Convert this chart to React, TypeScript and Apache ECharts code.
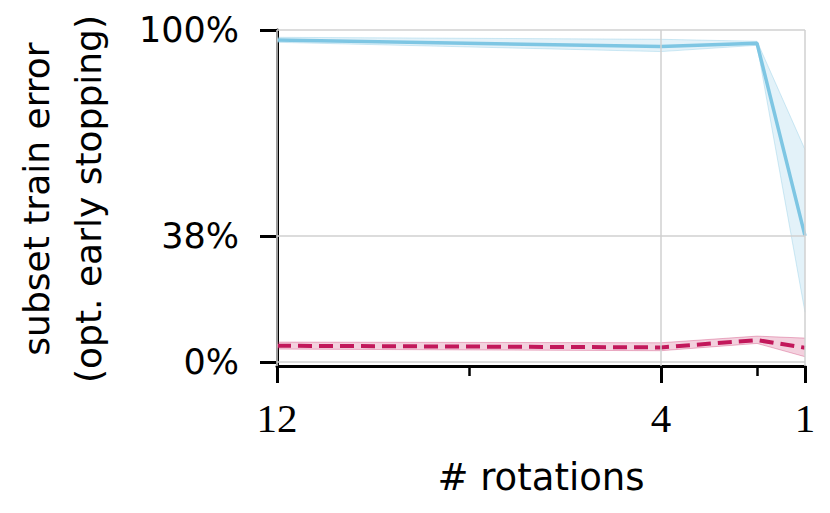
import React, { useEffect, useRef } from "react";
import * as echarts from "echarts";

const rotations = [12, 4, 2, 1];
const blueMean = [97.0, 95.0, 96.0, 38.0];
const blueLow = [96.3, 93.5, 95.4, 15.0];
const blueHigh = [97.8, 97.2, 96.6, 64.0];
const redMean = [4.9, 4.4, 6.6, 4.3];
const redLow = [3.9, 3.4, 5.6, 1.6];
const redHigh = [6.0, 5.8, 7.8, 7.2];
const yTicks = [0, 38, 100];
const xTicksMajor = [1, 4, 12];
const xTicksMinor = [2, 8];

const BLUE = "#7ec6e3";
const RED = "#c2185b";

export default function App() {
  const ref = useRef<HTMLDivElement>(null);
  useEffect(() => {
    if (!ref.current) return;
    const chart = echarts.init(ref.current, null, { renderer: "svg" });
    const pts = (ys: number[]) => rotations.map((x, i) => [x, ys[i]]);
    const band = (low: number[], high: number[], fill: string, edge: string) => ({
      type: "custom",
      coordinateSystem: "cartesian2d",
      data: [[rotations[0], low[0]]],
      z: 2,
      silent: true,
      renderItem: (params: any, api: any) => {
        const lo = rotations.map((x, i) => api.coord([x, low[i]]));
        const hi = rotations.map((x, i) => api.coord([x, high[i]])).reverse();
        return {
          type: "group",
          children: [
            { type: "polygon", shape: { points: lo.concat(hi) }, style: { fill, stroke: "none" } },
            { type: "polyline", shape: { points: lo }, style: { stroke: edge, lineWidth: 1, fill: "none" } },
            { type: "polyline", shape: { points: hi }, style: { stroke: edge, lineWidth: 1, fill: "none" } },
          ],
        };
      },
    });
    const axisBlack = { color: "#000", width: 3 };
    chart.setOption({
      animation: false,
      grid: { left: 277, right: 25, top: 30, bottom: 147, outerBoundsMode: "none", containLabel: false },
      xAxis: [
        {
          type: "value",
          min: 1,
          max: 12,
          inverse: true,
          position: "bottom",
          axisLine: { show: true, onZero: false, lineStyle: axisBlack },
          axisTick: { show: true, length: 17, lineStyle: axisBlack, customValues: xTicksMajor },
          axisLabel: {
            customValues: xTicksMajor,
            fontFamily: "Liberation Serif",
            fontSize: 41,
            color: "#000",
            margin: 31,
          },
          splitLine: { show: false },
        },
        {
          type: "value",
          min: 1,
          max: 12,
          inverse: true,
          position: "bottom",
          axisLine: { show: false, onZero: false },
          axisTick: { show: true, length: 10, lineStyle: { color: "#000", width: 2.5 }, customValues: xTicksMinor },
          axisLabel: { show: false },
          splitLine: { show: false },
        },
      ],
      yAxis: {
        type: "value",
        min: -1.2,
        max: 100,
        axisLine: { show: true, onZero: false, lineStyle: axisBlack },
        axisTick: { show: true, length: 17, lineStyle: axisBlack, customValues: yTicks },
        axisLabel: {
          customValues: yTicks,
          formatter: (v: number) => v + "%",
          fontFamily: "DejaVu Sans",
          fontSize: 35,
          color: "#000",
          margin: 38,
        },
        splitLine: { show: false },
      },
      graphic: [
        {
          type: "text",
          x: 62,
          y: 199,
          rotation: Math.PI / 2,
          style: {
            text: "subset train error\n(opt. early stopping)",
            fontFamily: "DejaVu Sans",
            fontSize: 36,
            lineHeight: 52,
            align: "center",
            verticalAlign: "middle",
            fill: "#000",
          },
        },
        {
          type: "text",
          x: 541,
          y: 477,
          style: {
            text: "# rotations",
            fontFamily: "DejaVu Sans",
            fontSize: 37,
            align: "center",
            verticalAlign: "middle",
            fill: "#000",
          },
        },
      ],
      series: [
        {
          name: "grid",
          type: "line",
          data: [],
          z: 0,
          markLine: {
            silent: true,
            symbol: "none",
            label: { show: false },
            lineStyle: { color: "#d0d0d0", width: 1.5, type: "solid" },
            data: [
              ...yTicks.map((v) => ({ yAxis: v })),
              ...xTicksMajor.map((v) => ({ xAxis: v })),
            ],
          },
        },
        band(blueLow, blueHigh, "rgba(126,198,227,0.22)", "rgba(126,198,227,0.35)"),
        band(redLow, redHigh, "rgba(194,24,91,0.2)", "rgba(194,24,91,0.3)"),
        {
          name: "blue",
          type: "line",
          data: pts(blueMean),
          symbol: "none",
          lineStyle: { color: BLUE, width: 3.5 },
          z: 3,
        },
        {
          name: "red",
          type: "line",
          data: pts(redMean),
          symbol: "none",
          lineStyle: { color: RED, width: 4, type: [14, 7] },
          z: 3,
        },
      ],
    });
    return () => chart.dispose();
  }, []);
  return <div ref={ref} style={{ width: 830, height: 513, position: "absolute", left: 0, top: 0 }} />;
}
